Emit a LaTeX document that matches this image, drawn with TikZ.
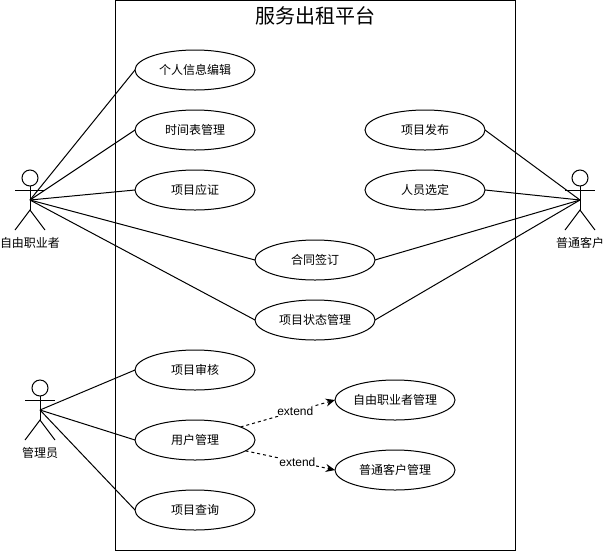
\documentclass[tikz,border=0pt]{standalone}
\usepackage{fontspec}
\setmainfont{Liberation Sans}
\newfontfamily\cjk{Noto Sans CJK SC}
\usetikzlibrary{shapes.geometric,arrows.meta}
\tikzset{
  usecase/.style={ellipse,draw,fill=white,minimum width=90pt,minimum height=30pt,inner sep=0pt,outer sep=0pt,font=\cjk\fontsize{9}{11}\selectfont},
  actorlabel/.style={inner sep=0pt,font=\cjk\fontsize{9}{11}\selectfont},
  assoc/.style={draw=black},
  ext/.style={draw=black,dashed,dash pattern=on 2.25pt off 2.25pt,-{Stealth[length=7pt,width=6pt]}},
  extlabel/.style={fill=white,inner sep=0.5pt,font=\fontsize{9}{11}\selectfont},
  every path/.append style={line width=0.75pt}
}
\newcommand{\stickman}[2]{%
  \draw (#1,#2-22) circle (6pt);
  \draw (#1-15,#2-10) -- (#1+15,#2-10);
  \draw (#1,#2-14) -- (#1,#2+10);
  \draw (#1-15,#2+30) -- (#1,#2+10) -- (#1+15,#2+30);
}
\begin{document}
\begin{tikzpicture}[x=0.75pt,y=-0.75pt]
\useasboundingbox (0,0) rectangle (604,551);
\fill[white] (0,0) rectangle (604,551);
\node[draw,fill=white,minimum width=300pt,minimum height=412.5pt,inner sep=0pt,outer sep=0pt] (platform) at (315,275) {};
\node[inner sep=0pt,font=\cjk\fontsize{15}{18}\selectfont] (title) at (315,16) {服务出租平台};

\coordinate (freelancer) at (30,200);
\coordinate (customer) at (580,200);
\coordinate (admin) at (40,410);
\stickman{30}{200}
\stickman{580}{200}
\stickman{40}{410}
\node[actorlabel] (l1) at (30,243) {自由职业者};
\node[actorlabel] (l2) at (580,243) {普通客户};
\node[actorlabel] (l3) at (40,453) {管理员};

\node[usecase] (u1) at (195,70) {个人信息编辑};
\node[usecase] (u2) at (195,130) {时间表管理};
\node[usecase] (u3) at (195,190) {项目应证};
\node[usecase] (u4) at (315,260) {合同签订};
\node[usecase] (u5) at (315,320) {项目状态管理};
\node[usecase] (u6) at (425,130) {项目发布};
\node[usecase] (u7) at (425,190) {人员选定};
\node[usecase] (u8) at (195,370) {项目审核};
\node[usecase] (u9) at (195,440) {用户管理};
\node[usecase] (u10) at (195,510) {项目查询};
\node[usecase] (u11) at (395,400) {自由职业者管理};
\node[usecase] (u12) at (395,470) {普通客户管理};

\foreach \t in {u1,u2,u3,u4,u5} \draw[assoc] (freelancer) -- (\t.west);
\foreach \t in {u4,u5,u6,u7} \draw[assoc] (customer) -- (\t.east);
\foreach \t in {u8,u9,u10} \draw[assoc] (admin) -- (\t.west);
\draw[ext] (u9) -- node[extlabel,pos=0.58] {extend} (u11.west);
\draw[ext] (u9) -- node[extlabel,pos=0.58] {extend} (u12.west);
\end{tikzpicture}
\end{document}
